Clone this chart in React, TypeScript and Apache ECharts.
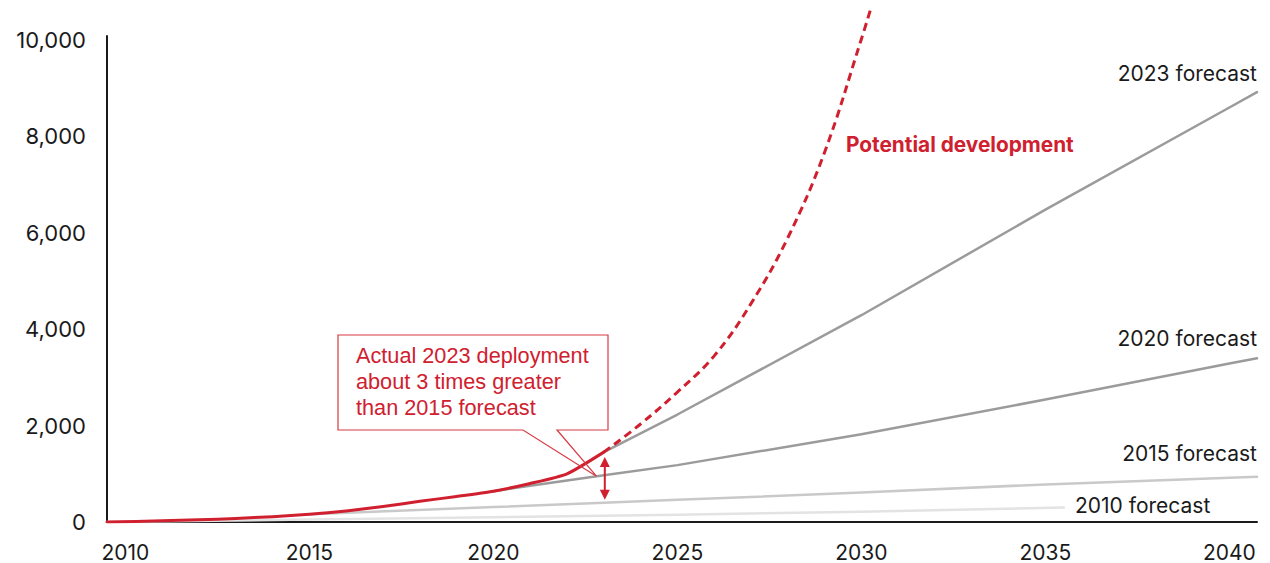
import React, { useEffect, useRef } from "react";
import * as echarts from "echarts";

const actualYears = [2009.5, 2011, 2012, 2013, 2014, 2015, 2016, 2017, 2018, 2019, 2020, 2021, 2022, 2023];
const actualValues = [0, 25, 45, 75, 110, 160, 230, 320, 430, 530, 640, 800, 1000, 1450];

const potentialYears = [2023, 2024, 2025, 2026, 2027, 2028, 2029, 2030, 2030.25];
const potentialValues = [1450, 2033, 2696, 3447, 4531, 5897, 7672, 10020, 10640];

const f2023Years = [2023, 2025, 2030, 2035, 2040, 2040.75];
const f2023Values = [1450, 2230, 4290, 6480, 8600, 8920];

const f2020Years = [2020, 2021, 2022, 2023, 2025, 2030, 2035, 2040, 2040.75];
const f2020Values = [640, 750, 860, 970, 1180, 1820, 2540, 3290, 3396];

const f2015Years = [2015, 2020, 2023, 2025, 2030, 2035, 2040.75];
const f2015Values = [160, 310, 400, 460, 610, 780, 937];

const f2010Years = [2009.5, 2015, 2020, 2025, 2030, 2035.5];
const f2010Values = [0, 50, 100, 150, 215, 300];

const xTickLabels = [2010, 2015, 2020, 2025, 2030, 2035, 2040];
const yTickLabels = [0, 2000, 4000, 6000, 8000, 10000];

const RED = "#d0202f";
const TEXT = "#1a1a1a";
const FONT = "Inter";

const pairs = (xs: number[], ys: number[]) => xs.map((x, i) => [x, ys[i]]);

export default function App() {
  const ref = useRef<HTMLDivElement>(null);

  useEffect(() => {
    if (!ref.current) return;
    const chart = echarts.init(ref.current, null, { renderer: "svg" });
    const line = (name: string, data: number[][], color: string, width: number, z: number, extra: any = {}) => ({
      name,
      type: "line",
      data,
      symbol: "none",
      showSymbol: false,
      z,
      lineStyle: { color, width, cap: "round", join: "round" },
      emphasis: { disabled: true },
      ...extra,
    });
    chart.setOption({
      animation: false,
      grid: { left: 107, right: 13, top: 36, bottom: 41, outerBoundsMode: "none" },
      xAxis: {
        type: "value",
        min: 2009.5,
        max: 2040.75,
        axisLine: { show: true, onZero: false, lineStyle: { color: TEXT, width: 2 } },
        axisTick: { show: false },
        splitLine: { show: false },
        axisLabel: {
          customValues: xTickLabels,
          formatter: (v: number) => String(v),
          color: TEXT,
          fontFamily: FONT,
          fontSize: 21,
          lineHeight: 20,
          margin: 20,
        },
      },
      yAxis: {
        type: "value",
        min: 0,
        max: 10083,
        axisLine: { show: true, lineStyle: { color: TEXT, width: 2 } },
        axisTick: { show: false },
        splitLine: { show: false },
        axisLabel: {
          customValues: yTickLabels,
          formatter: (v: number) => v.toLocaleString("en-US"),
          color: TEXT,
          fontFamily: FONT,
          fontSize: 22,
          margin: 21,
        },
      },
      series: [
        line("2010 forecast", pairs(f2010Years, f2010Values), "#e3e3e3", 2.5, 1),
        line("2015 forecast", pairs(f2015Years, f2015Values), "#c9c9c9", 2.5, 2),
        line("2020 forecast", pairs(f2020Years, f2020Values), "#9b9b9b", 2.5, 3),
        line("2023 forecast", pairs(f2023Years, f2023Values), "#9b9b9b", 2.5, 4),
        line("Actual", pairs(actualYears, actualValues), RED, 3, 5, { smooth: 0.2 }),
        line("Potential development", pairs(potentialYears, potentialValues), RED, 3, 5, {
          smooth: 0.4,
          clip: false,
          lineStyle: { color: RED, width: 3, type: [8, 5], cap: "butt" },
        }),
      ],
    });

    const top = chart.convertToPixel({ gridIndex: 0 }, [2023, 1450]) as number[];
    const bot = chart.convertToPixel({ gridIndex: 0 }, [2023, 400]) as number[];
    const tip = chart.convertToPixel({ gridIndex: 0 }, [2022.8, 950]) as number[];
    const ax = top[0] + 1;
    const aTop = top[1] + 5;
    const aBot = bot[1] - 3;
    const labelFont = `21px ${FONT}`;

    chart.setOption({
      graphic: [
        {
          type: "rect",
          z: 9,
          shape: { x: 338, y: 335, width: 270, height: 95 },
          style: { fill: "#ffffff" },
        },
        {
          type: "polygon",
          z: 10,
          shape: {
            points: [
              [338, 335], [608, 335], [608, 430], [557, 430], [tip[0], tip[1]], [523, 430], [338, 430],
            ],
          },
          style: { fill: "rgba(255,255,255,0)", stroke: "#d63a44", lineWidth: 1.2 },
        },
        {
          type: "text",
          z: 11,
          x: 356,
          y: 342,
          style: {
            text: "Actual 2023 deployment\nabout 3 times greater\nthan 2015 forecast",
            fill: RED,
            font: '21.7px "Liberation Sans", Arial, sans-serif',
            lineHeight: 26,
            verticalAlign: "top",
          },
        },
        {
          type: "line",
          z: 11,
          shape: { x1: ax, y1: aTop + 8, x2: ax, y2: aBot - 8 },
          style: { stroke: RED, lineWidth: 2 },
        },
        {
          type: "polygon",
          z: 11,
          shape: { points: [[ax, aTop], [ax - 5, aTop + 10], [ax + 5, aTop + 10]] },
          style: { fill: RED },
        },
        {
          type: "polygon",
          z: 11,
          shape: { points: [[ax, aBot], [ax - 5, aBot - 10], [ax + 5, aBot - 10]] },
          style: { fill: RED },
        },
        {
          type: "text",
          x: 846,
          y: 144,
          style: {
            text: "Potential development",
            fill: RED,
            font: `bold 20.8px ${FONT}`,
            verticalAlign: "middle",
          },
        },
        {
          type: "text",
          x: 1257,
          y: 73,
          style: { text: "2023 forecast", fill: TEXT, font: labelFont, align: "right", verticalAlign: "middle" },
        },
        {
          type: "text",
          x: 1257,
          y: 338,
          style: { text: "2020 forecast", fill: TEXT, font: labelFont, align: "right", verticalAlign: "middle" },
        },
        {
          type: "text",
          x: 1257,
          y: 453,
          style: { text: "2015 forecast", fill: TEXT, font: labelFont, align: "right", verticalAlign: "middle" },
        },
        {
          type: "text",
          x: 1075,
          y: 505,
          style: { text: "2010 forecast", fill: TEXT, font: labelFont, align: "left", verticalAlign: "middle" },
        },
      ],
    });

    return () => chart.dispose();
  }, []);

  return (
    <div
      ref={ref}
      style={{ position: "fixed", left: 0, top: 0, width: 1270, height: 563, background: "#fff" }}
    />
  );
}
